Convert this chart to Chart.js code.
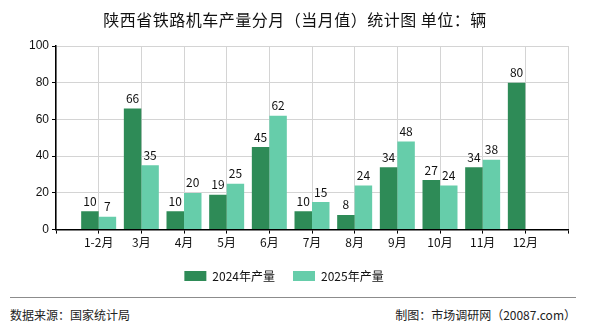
<!DOCTYPE html>
<html>
<head>
<meta charset="utf-8">
<script src="https://cdn.jsdelivr.net/npm/chart.js@4"></script>
<style>
  body { margin: 0; background: #fff; font-family: "Noto Sans CJK SC", sans-serif; }
  #wrap { position: relative; width: 590px; height: 330px; }
  #title { position: absolute; top: 7px; left: 0; width: 590px; text-align: center; font-size: 16px; letter-spacing: 0.5px; color: #111; }
  #chart-box { position: absolute; top: 0; left: 0; width: 590px; height: 296px; }
  #rule { position: absolute; top: 297px; left: 10px; width: 566px; height: 1px; background: #8c8c8c; }
  .foot { position: absolute; top: 306px; font-size: 12px; color: #222; }
</style>
</head>
<body>
<div id="wrap">
  <div id="chart-box"><canvas id="chart"></canvas></div>
  <div id="title">陕西省铁路机车产量分月（当月值）统计图 单位：辆</div>
  <div id="rule"></div>
  <div class="foot" style="left:10px">数据来源：国家统计局</div>
  <div class="foot" style="right:14px">制图：市场调研网（20087.com）</div>
</div>
<script>
const months = ['1-2月', '3月', '4月', '5月', '6月', '7月', '8月', '9月', '10月', '11月', '12月'];
const output2024 = [10, 66, 10, 19, 45, 10, 8, 34, 27, 34, 80];
const output2025 = [7, 35, 20, 25, 62, 15, 24, 48, 24, 38, null];
const yTicks = [0, 20, 40, 60, 80, 100];

// blank slots at both ends so the first/last month sit one step in from the axis ends
const labels = [''].concat(months, ['']);
const pad = arr => [null].concat(arr, [null]);

const valueLabels = {
  id: 'valueLabels',
  afterDatasetsDraw(chart) {
    const ctx = chart.ctx;
    ctx.save();
    ctx.font = '12px "Noto Sans CJK SC", sans-serif';
    ctx.fillStyle = '#111';
    ctx.textAlign = 'center';
    ctx.textBaseline = 'bottom';
    chart.data.datasets.forEach((ds, i) => {
      const meta = chart.getDatasetMeta(i);
      meta.data.forEach((bar, j) => {
        const v = ds.data[j];
        if (v === null || v === undefined) return;
        ctx.fillText(String(v), bar.x, bar.y - 4);
      });
    });
    ctx.restore();
  }
};

const ctx = document.getElementById('chart').getContext('2d');
new Chart(ctx, {
  type: 'bar',
  data: {
    labels: labels,
    datasets: [
      { label: '2024年产量', data: pad(output2024), backgroundColor: '#2e8b57', borderWidth: 0 },
      { label: '2025年产量', data: pad(output2025), backgroundColor: '#66cdaa', borderWidth: 0 }
    ]
  },
  options: {
    responsive: true,
    maintainAspectRatio: false,
    animation: false,
    layout: { padding: { top: 46, right: 22, left: 0, bottom: 4 } },
    datasets: { bar: { categoryPercentage: 0.82, barPercentage: 1.0 } },
    scales: {
      x: {
        offset: false,
        grid: { color: '#d4d4d4', tickColor: '#000', tickLength: 4, offset: false },
        border: { color: '#000', width: 1.5 },
        ticks: { color: '#111', font: { size: 12, family: '"Noto Sans CJK SC", sans-serif' }, maxRotation: 0, autoSkip: false, padding: 2 }
      },
      y: {
        min: 0,
        max: 100,
        afterBuildTicks: scale => { scale.ticks = yTicks.map(v => ({ value: v })); },
        afterFit: scale => { scale.width = 56; },
        grid: { color: '#d4d4d4', tickColor: '#000', tickLength: 4 },
        border: { color: '#000', width: 1.5 },
        ticks: { color: '#111', font: { size: 12, family: 'Arial, sans-serif' }, padding: 3 }
      }
    },
    plugins: {
      legend: {
        position: 'bottom',
        labels: {
          boxWidth: 22,
          boxHeight: 10,
          padding: 18,
          color: '#111',
          font: { size: 12, family: '"Noto Sans CJK SC", sans-serif' }
        }
      },
      tooltip: { enabled: false }
    }
  },
  plugins: [valueLabels]
});
</script>
</body>
</html>
